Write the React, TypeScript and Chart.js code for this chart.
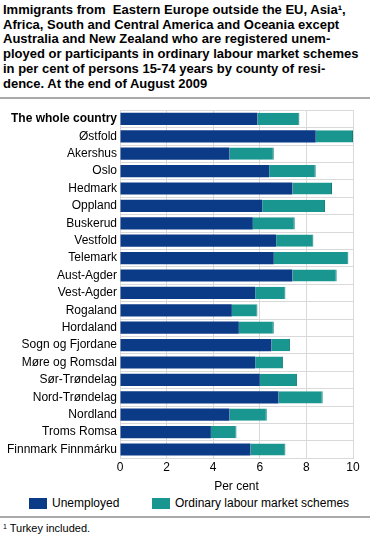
import React, { useEffect, useRef } from "react";
import { Chart, registerables } from "chart.js";

Chart.register(...registerables);

const categories = [
  "The whole country",
  "Østfold",
  "Akershus",
  "Oslo",
  "Hedmark",
  "Oppland",
  "Buskerud",
  "Vestfold",
  "Telemark",
  "Aust-Agder",
  "Vest-Agder",
  "Rogaland",
  "Hordaland",
  "Sogn og Fjordane",
  "Møre og Romsdal",
  "Sør-Trøndelag",
  "Nord-Trøndelag",
  "Nordland",
  "Troms Romsa",
  "Finnmark Finnmárku",
];

const unemployed = [5.9, 8.4, 4.7, 6.4, 7.4, 6.1, 5.7, 6.7, 6.6, 7.4, 5.8, 4.8, 5.1, 6.5, 5.8, 6.0, 6.8, 4.7, 3.9, 5.6];
const schemes = [1.8, 1.6, 1.9, 2.0, 1.7, 2.7, 1.8, 1.6, 3.2, 1.9, 1.3, 1.1, 1.5, 0.8, 1.2, 1.6, 1.9, 1.6, 1.1, 1.5];

const seriesNames = ["Unemployed", "Ordinary labour market schemes"];
const seriesColors = ["#0b3a87", "#1a9691"];
const xTicks = [0, 2, 4, 6, 8, 10];
const xAxisTitle = "Per cent";

const titleLines = [
  "Immigrants from  Eastern Europe outside the EU, Asia\u00b9,",
  "Africa, South and Central America and Oceania except",
  "Australia and New Zealand who are registered unem-",
  "ployed or participants in ordinary labour market schemes",
  "in per cent of persons 15-74 years by county of resi-",
  "dence. At the end of August 2009",
];
const footnote = "Turkey included.";

const FONT = "'Liberation Sans', Arial, sans-serif";

export default function App() {
  const canvasRef = useRef<HTMLCanvasElement | null>(null);

  useEffect(() => {
    document.body.style.margin = "0";
    const ctx = canvasRef.current!;
    const chart = new Chart(ctx, {
      type: "bar",
      data: {
        labels: categories,
        datasets: [
          {
            label: seriesNames[0],
            data: unemployed,
            backgroundColor: seriesColors[0],
            borderWidth: 0,
            barPercentage: 0.7,
            categoryPercentage: 1,
          },
          {
            label: seriesNames[1],
            data: schemes,
            backgroundColor: seriesColors[1],
            borderColor: "#137d78",
            borderWidth: { right: 1, top: 0, bottom: 0, left: 0 } as any,
            borderSkipped: false,
            barPercentage: 0.7,
            categoryPercentage: 1,
          },
        ],
      },
      options: {
        indexAxis: "y",
        animation: false,
        responsive: false,
        maintainAspectRatio: false,
        layout: { padding: { top: 8, right: 17, left: 0, bottom: 1 } },
        plugins: {
          tooltip: { enabled: false },
          legend: { display: false },
        },
        scales: {
          x: {
            stacked: true,
            min: 0,
            max: 10,
            afterBuildTicks: (scale: any) => {
              scale.ticks = xTicks.map((v) => ({ value: v }));
            },
            ticks: {
              color: "#000",
              font: { family: FONT, size: 12 },
              padding: 2,
            },
            grid: { color: "#d9d9d9", drawTicks: false },
            border: { display: true, color: "#d9d9d9" },
            title: {
              display: true,
              text: xAxisTitle,
              color: "#000",
              font: { family: FONT, size: 12 },
              padding: { top: 3, bottom: 0 },
            },
          },
          y: {
            stacked: true,
            afterFit: (scale: any) => {
              scale.width = 120;
            },
            ticks: {
              color: "#000",
              padding: 3,
              autoSkip: false,
              font: (c: any) =>
                c.index === 0
                  ? { family: FONT, size: 12, weight: "bold" }
                  : { family: FONT, size: 12 },
            },
            grid: { color: "#d9d9d9", drawTicks: false, offset: true },
            border: { display: true, color: "#d9d9d9" },
          },
        },
      },
    });
    return () => chart.destroy();
  }, []);

  const legendItem = (i: number, left: number) => (
    <div
      key={i}
      style={{
        position: "absolute",
        left,
        top: 498,
        height: 11,
        display: "flex",
        alignItems: "center",
        whiteSpace: "nowrap",
      }}
    >
      <div style={{ width: 18, height: 11, background: seriesColors[i] }} />
      <div style={{ marginLeft: 5, fontSize: 12, lineHeight: "11px" }}>{seriesNames[i]}</div>
    </div>
  );

  return (
    <div
      style={{
        position: "absolute",
        left: 0,
        top: 0,
        width: 370,
        height: 536,
        background: "#fff",
        fontFamily: FONT,
        color: "#000",
        overflow: "hidden",
      }}
    >
      <div
        style={{
          position: "absolute",
          left: 3,
          top: 3,
          fontSize: 13,
          fontWeight: "bold",
          lineHeight: "14.7px",
          whiteSpace: "pre",
        }}
      >
        {titleLines.map((l, i) => (
          <div key={i}>{l}</div>
        ))}
      </div>
      <div
        style={{
          position: "absolute",
          left: 0,
          top: 97,
          width: 370,
          height: 2,
          background: "#aaaaaa",
        }}
      />
      <div style={{ position: "absolute", left: 0, top: 100, width: 370, height: 395 }}>
        <canvas ref={canvasRef} width={370} height={395} style={{ width: 370, height: 395 }} />
      </div>
      {legendItem(0, 29)}
      {legendItem(1, 152)}
      <div
        style={{
          position: "absolute",
          left: 0,
          top: 516,
          width: 370,
          height: 2,
          background: "#aaaaaa",
        }}
      />
      <div style={{ position: "absolute", left: 3, top: 522, fontSize: 11, lineHeight: "13px", whiteSpace: "nowrap" }}>
        <sup style={{ fontSize: 7, verticalAlign: "top", lineHeight: "9px" }}>1</sup> {footnote}
      </div>
    </div>
  );
}
